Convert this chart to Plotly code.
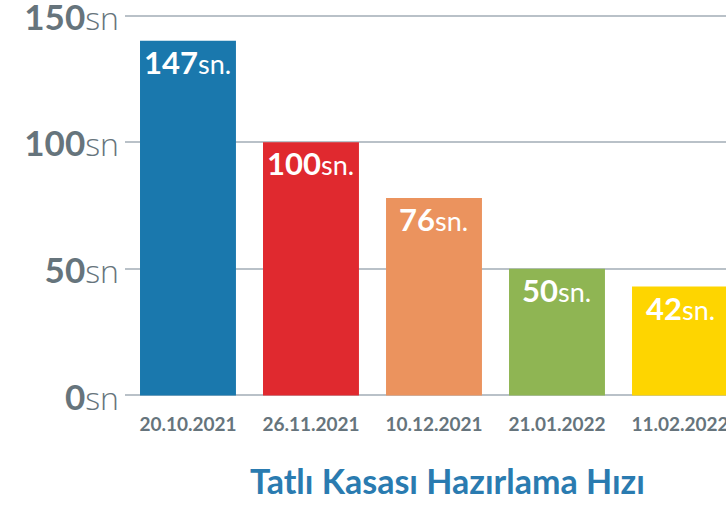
import plotly.graph_objects as go

categories = ["20.10.2021", "26.11.2021", "10.12.2021", "21.01.2022", "11.02.2022"]
bar_heights = [140, 100, 78, 50, 43]          # heights as drawn in the picture
bar_labels = [147, 100, 76, 50, 42]           # numbers printed on the bars
colors = ["#1a78ad", "#e0292f", "#eb935e", "#8fb553", "#fed500"]
ytick_vals = [0, 50, 100, 150]
ytick_labels = ["<b>%d</b><span style='font-family:Open Sans;font-weight:300;font-size:32px'>sn</span>" % v
                for v in ytick_vals]
title_text = "Tatlı Kasası Hazırlama Hızı"

fig = go.Figure()
fig.add_trace(go.Bar(
    x=categories, y=bar_heights, marker=dict(color=colors, line=dict(width=0)),
    width=0.78, hoverinfo="skip",
))

for c, h, lab in zip(categories, bar_heights, bar_labels):
    fig.add_annotation(
        x=c, y=h, xref="x", yref="y", yanchor="top", yshift=0,
        text="<b>%d</b><span style='font-size:27px'>sn.</span>" % lab,
        showarrow=False, font=dict(family="Lato", size=31, color="white"),
    )

fig.add_annotation(
    x=0.537, y=-0.213, xref="paper", yref="paper", xanchor="center", yanchor="middle",
    text="<b>" + title_text + "</b>", showarrow=False,
    font=dict(family="Lato", size=34, color="#2a7bb0"),
)

fig.update_layout(
    width=726, height=505,
    margin=dict(l=125, r=0, t=13, b=107),
    plot_bgcolor="white", paper_bgcolor="white",
    showlegend=False,
    font=dict(family="Lato"),
    bargap=0.2,
)
fig.update_xaxes(
    type="category", range=[-0.512, 4.374], showgrid=False, zeroline=False, showline=False,
    ticks="outside", ticklen=9, tickcolor="rgba(0,0,0,0)",
    tickfont=dict(family="Lato", size=19, color="#66747c"),
    tickvals=categories, ticktext=["<b>%s</b>" % c for c in categories],
    automargin=False,
)
fig.update_yaxes(
    range=[-1, 151], tickvals=ytick_vals, ticktext=ytick_labels,
    showgrid=True, gridcolor="#b9c1c8", gridwidth=2,
    zeroline=False, showline=False, ticks="",
    ticklabelstandoff=5, ticklabelshift=2,
    ticklabeloverflow="allow", automargin=False,
    tickfont=dict(family="Lato", size=35, color="#66747c"),
)

fig.write_html(
    "out.html",
    config={"displayModeBar": False},
    post_script="document.body.style.margin='0';document.body.style.overflow='hidden';",
)
